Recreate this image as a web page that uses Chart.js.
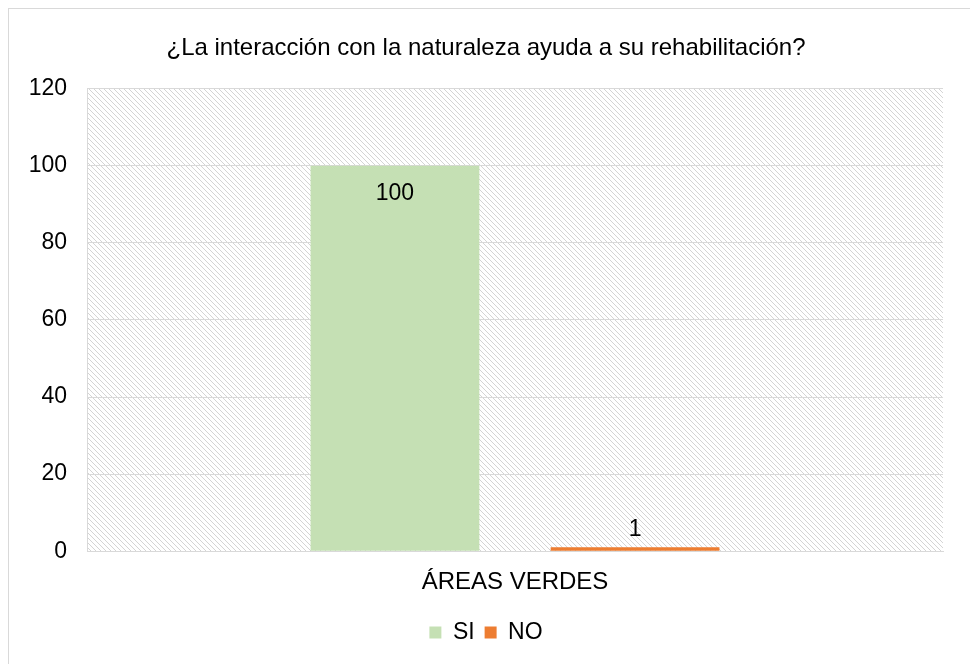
<!DOCTYPE html>
<html>
<head>
<meta charset="utf-8">
<script src="https://cdn.jsdelivr.net/npm/chart.js@4"></script>
<style>
  body { margin: 0; background: #fff; }
  #frame { position: absolute; left: 8px; top: 8px; width: 980px; height: 680px; border: 1px solid #d9d9d9; }
  #wrap { position: absolute; left: 0; top: 0; width: 970px; height: 664px; }
</style>
</head>
<body>
<div id="frame"></div>
<div id="wrap"><canvas id="chart" width="970" height="664"></canvas></div>
<script>
const categories = ["ÁREAS VERDES"];
const siValues = [100];
const noValues = [1];
const titleText = "¿La interacción con la naturaleza ayuda a su rehabilitación?";
const FONT = "'Liberation Sans', Arial, sans-serif";
const FS = 23;

// hatch for the plot area background
function makeHatch() {
    const c = document.createElement("canvas");
    c.width = 5; c.height = 5;
    const g = c.getContext("2d");
    g.fillStyle = "#d4d4d4";
    for (let i = 0; i < 5; i++) {
        g.fillRect(i, i, 1, 1);
    }
    return c;
}

const plotBg = {
    id: "plotBg",
    beforeDraw(chart) {
        const { ctx, chartArea: a } = chart;
        ctx.save();
        ctx.fillStyle = ctx.createPattern(makeHatch(), "repeat");
        ctx.fillRect(a.left, a.top, a.right - a.left, a.bottom - a.top);
        ctx.restore();
    },
    afterDatasetsDraw(chart) {
        const { ctx } = chart;
        ctx.save();
        ctx.font = FS + "px " + FONT;
        ctx.fillStyle = "#000";
        ctx.textAlign = "center";
        ctx.textBaseline = "middle";
        chart.data.datasets.forEach((ds, i) => {
            chart.getDatasetMeta(i).data.forEach((bar, j) => {
                const v = ds.data[j];
                // big bars get the label inside, small ones above
                const y = v > 10 ? bar.y + 28 : bar.y - 18;
                ctx.fillText(v, bar.x, y);
            });
        });
        ctx.restore();
    }
};

new Chart(document.getElementById("chart"), {
    type: "bar",
    data: {
        labels: categories,
        datasets: [
            { label: "SI", data: siValues, backgroundColor: "#c5e0b4" },
            { label: "NO", data: noValues, backgroundColor: "#ed7d31" }
        ]
    },
    options: {
        responsive: false,
        animation: false,
        devicePixelRatio: 1,
        categoryPercentage: 0.561,
        barPercentage: 0.703,
        layout: { padding: { left: 29, right: 27, top: 23, bottom: 10 } },
        plugins: {
            title: {
                display: true,
                text: titleText,
                color: "#000",
                font: { family: FONT, size: 24, weight: "normal" },
                padding: { top: 11, bottom: 26 }
            },
            legend: {
                position: "bottom",
                labels: {
                    color: "#000",
                    boxWidth: 12,
                    boxHeight: 12,
                    padding: 10,
                    font: { family: FONT, size: FS }
                }
            },
            tooltip: { enabled: false }
        },
        scales: {
            x: {
                grid: { display: false },
                border: { color: "#d9d9d9" },
                ticks: { color: "#000", padding: 9, font: { family: FONT, size: 24 } },
                afterFit(scale) { scale.height += 5; }
            },
            y: {
                min: 0,
                max: 120,
                ticks: { stepSize: 20, color: "#000", padding: 20, font: { family: FONT, size: FS } },
                grid: { color: "#d9d9d9", drawTicks: false },
                border: { color: "#d9d9d9" },
                afterFit(scale) { scale.width = 58; }
            }
        }
    },
    plugins: [plotBg]
});
</script>
</body>
</html>
